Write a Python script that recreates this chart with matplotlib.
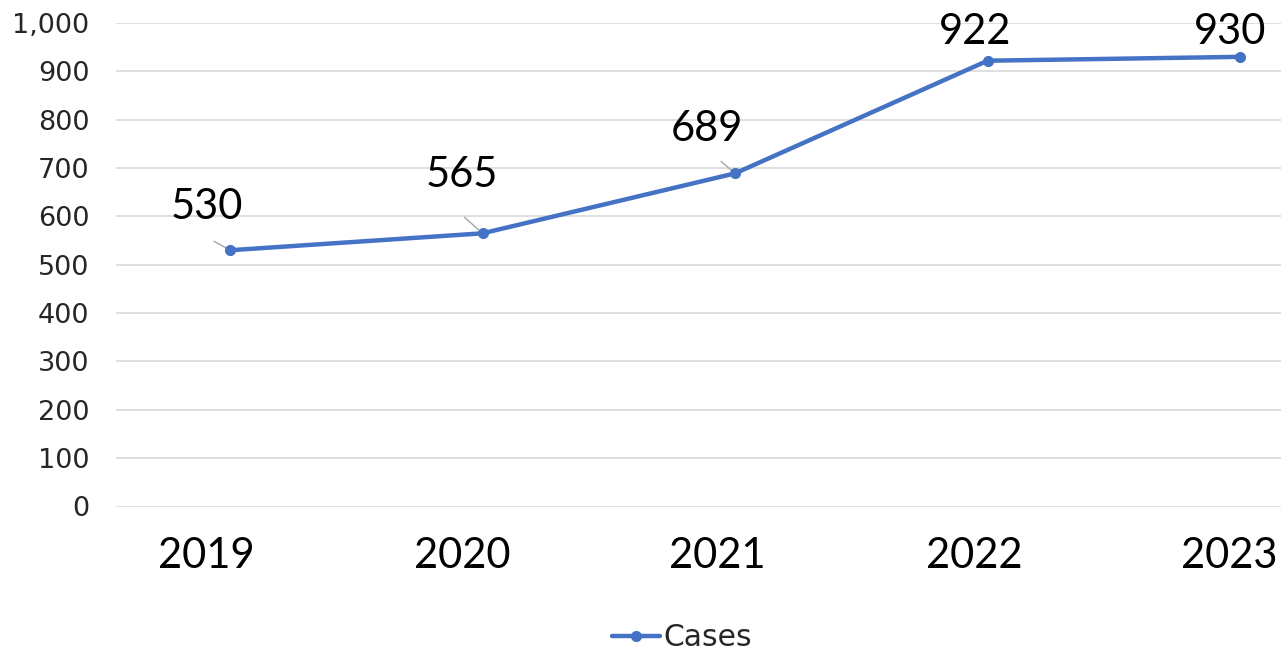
import matplotlib
matplotlib.use("Agg")
import matplotlib.pyplot as plt
import matplotlib.transforms as mtransforms
from matplotlib.ticker import FuncFormatter

years = ["2019", "2020", "2021", "2022", "2023"]
cases = [530, 565, 689, 922, 930]
yticks = [0, 100, 200, 300, 400, 500, 600, 700, 800, 900, 1000]

# label offsets in pixels (dx, dy) relative to the point
label_offsets = [(-23, 43), (-21, 58), (-28, 44), (-13, 29), (-10, 25)]
# leader line start offsets in pixels (None = no leader)
leader_offsets = [(-16, 9), (-18, 16), (-14, 12), None, None]
# horizontal shift of the category labels, pixels
year_shifts = [-24, -20.5, -17.5, -13, -10.5]

W, H = 1281, 657
fig = plt.figure(figsize=(W / 100, H / 100), dpi=100)
left, right = 116 / W, 1.0
bottom, top = 1 - 506.5 / H, 1 - 23 / H
ax = fig.add_axes([left, bottom, right - left, top - bottom])

color = "#4472C4"
x = list(range(len(years)))
ax.plot(x, cases, color=color, lw=3.2, marker="o", markersize=7,
        solid_capstyle="round", label="Cases", zorder=3)

ax.set_xlim(-0.4515, 4.162)
ax.set_ylim(0, 1000)
ax.set_yticks(yticks)
ax.yaxis.set_major_formatter(FuncFormatter(lambda v, p: f"{int(v):,}"))
ax.set_xticks(x)
ax.set_xticklabels(years)
ax.grid(axis="y", color="#D9D9D9", lw=1.2)
ax.set_axisbelow(True)
for s in ax.spines.values():
    s.set_visible(False)
ax.tick_params(axis="both", length=0)
ax.tick_params(axis="y", pad=19, labelsize=19.5, labelcolor="#262626")
ax.tick_params(axis="x", pad=22, labelsize=30)
for t in ax.get_yticklabels():
    t.set_fontfamily("DejaVu Sans")
for t, sh in zip(ax.get_xticklabels(), year_shifts):
    t.set_fontfamily("Lato")
    t.set_transform(t.get_transform() +
                    mtransforms.ScaledTranslation(sh / 100, 0, fig.dpi_scale_trans))

px2pt = 72 / 100
for i, v in enumerate(cases):
    dx, dy = label_offsets[i]
    ax.annotate(str(v), xy=(i, v), xytext=(dx * px2pt, dy * px2pt),
                textcoords="offset points", ha="center", va="center",
                fontsize=30, fontfamily="Lato", color="black",
                zorder=4, annotation_clip=False)
    lo = leader_offsets[i]
    if lo is not None:
        ax.annotate("", xy=(i, v), xytext=(lo[0] * px2pt, lo[1] * px2pt),
                    textcoords="offset points",
                    arrowprops=dict(arrowstyle="-", color="#A6A6A6", lw=1.0,
                                    shrinkA=0, shrinkB=3),
                    zorder=2)

leg = fig.legend(loc="center", bbox_to_anchor=(682 / W, 1 - 638 / H),
                 frameon=False, prop={"family": "DejaVu Sans", "size": 21.5},
                 handlelength=1.6, handletextpad=0.1, markerscale=1.0)
for t in leg.get_texts():
    t.set_color("#262626")

fig.savefig("out.png", dpi=100)
